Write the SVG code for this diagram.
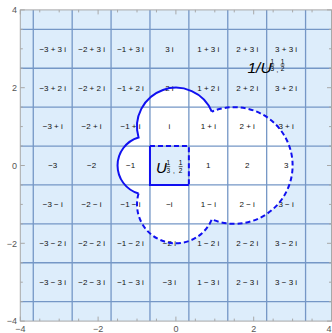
<svg xmlns="http://www.w3.org/2000/svg" width="332" height="333" viewBox="0 0 332 333">
<style>
.cell{font-family:"Liberation Sans",Arial,sans-serif;font-size:8px;fill:#111;text-anchor:middle}
.tick{font-family:"Liberation Sans",Arial,sans-serif;font-size:9px;fill:#555}
.big{font-family:"Liberation Sans",Arial,sans-serif;font-style:italic;fill:#000}
.frac{font-family:"Liberation Sans",Arial,sans-serif;font-size:6.5px;fill:#000;text-anchor:middle}
.grid{stroke:#7597c6;stroke-width:1.3;fill:none}
.bd{stroke:#1010f0;stroke-width:2;fill:none}
.dash{stroke-dasharray:5,3}
</style>
<g id="plot-bg">
<rect x="20.3" y="9.9" width="311.2" height="311.2" fill="#ddedfb"/>
<path id="blob" d="M211.81,111.64 A38.9,38.9 0 0 0 138.56,137.49 A29.175,29.175 0 0 0 138.56,193.51 A38.9,38.9 0 0 0 211.81,219.36 A58.35,58.35 0 1 0 211.81,111.64 Z" fill="#fff"/>
<rect id="square" x="149.97" y="146.05" width="38.9" height="38.9" fill="#ddedfb"/>
</g>
<g id="grid" class="grid">
<path d="M33.27,9.9V321.1M72.17,9.9V321.1M111.07,9.9V321.1M149.97,9.9V321.1M188.87,9.9V321.1M227.77,9.9V321.1M266.67,9.9V321.1M305.57,9.9V321.1"/>
<path d="M20.3,29.35H331.5M20.3,68.25H331.5M20.3,107.15H331.5M20.3,146.05H331.5M20.3,184.95H331.5M20.3,223.85H331.5M20.3,262.75H331.5M20.3,301.65H331.5"/>
</g>
<g id="frame" stroke="#a8a8a8" stroke-width="1" fill="none">
<rect x="20.3" y="9.9" width="311.2" height="311.2"/>
<path d="M20.3,321.1v-4.5M98.1,321.1v-4.5M175.9,321.1v-4.5M253.7,321.1v-4.5M331.5,321.1v-4.5M20.3,9.9v4.5M98.1,9.9v4.5M175.9,9.9v4.5M253.7,9.9v4.5M331.5,9.9v4.5M20.3,9.9h4.5M20.3,87.7h4.5M20.3,165.5h4.5M20.3,243.3h4.5M20.3,321.1h4.5M331.5,9.9h-4.5M331.5,87.7h-4.5M331.5,165.5h-4.5M331.5,243.3h-4.5M331.5,321.1h-4.5"/>
<path d="M39.75,321.1v-2.5M59.2,321.1v-2.5M78.65,321.1v-2.5M117.55,321.1v-2.5M137,321.1v-2.5M156.45,321.1v-2.5M195.35,321.1v-2.5M214.8,321.1v-2.5M234.25,321.1v-2.5M273.15,321.1v-2.5M292.6,321.1v-2.5M312.05,321.1v-2.5M39.75,9.9v2.5M59.2,9.9v2.5M78.65,9.9v2.5M117.55,9.9v2.5M137,9.9v2.5M156.45,9.9v2.5M195.35,9.9v2.5M214.8,9.9v2.5M234.25,9.9v2.5M273.15,9.9v2.5M292.6,9.9v2.5M312.05,9.9v2.5M20.3,29.35h2.5M20.3,48.8h2.5M20.3,68.25h2.5M20.3,107.15h2.5M20.3,126.6h2.5M20.3,146.05h2.5M20.3,184.95h2.5M20.3,204.4h2.5M20.3,223.85h2.5M20.3,262.75h2.5M20.3,282.2h2.5M20.3,301.65h2.5M331.5,29.35h-2.5M331.5,48.8h-2.5M331.5,68.25h-2.5M331.5,107.15h-2.5M331.5,126.6h-2.5M331.5,146.05h-2.5M331.5,184.95h-2.5M331.5,204.4h-2.5M331.5,223.85h-2.5M331.5,262.75h-2.5M331.5,282.2h-2.5M331.5,301.65h-2.5"/>
</g>
<g id="tick-labels" class="tick">
<text x="20.3" y="331.5" text-anchor="middle">−4</text>
<text x="98.1" y="331.5" text-anchor="middle">−2</text>
<text x="175.9" y="331.5" text-anchor="middle">0</text>
<text x="253.7" y="331.5" text-anchor="middle">2</text>
<text x="331.5" y="331.5" text-anchor="end">4</text>
<text x="17" y="13" text-anchor="end">4</text>
<text x="17" y="90.9" text-anchor="end">2</text>
<text x="17" y="168.7" text-anchor="end">0</text>
<text x="17" y="246.5" text-anchor="end">−2</text>
<text x="17" y="324.3" text-anchor="end">−4</text>
</g>
<g id="cell-labels" class="cell">
<text x="52.72" y="51.6">−3 + 3 i</text><text x="91.62" y="51.6">−2 + 3 i</text><text x="130.52" y="51.6">−1 + 3 i</text><text x="169.42" y="51.6">3 i</text><text x="208.32" y="51.6">1 + 3 i</text><text x="247.22" y="51.6">2 + 3 i</text><text x="286.12" y="51.6">3 + 3 i</text>
<text x="52.72" y="90.5">−3 + 2 i</text><text x="91.62" y="90.5">−2 + 2 i</text><text x="130.52" y="90.5">−1 + 2 i</text><text x="169.42" y="90.5">2 i</text><text x="208.32" y="90.5">1 + 2 i</text><text x="247.22" y="90.5">2 + 2 i</text><text x="286.12" y="90.5">3 + 2 i</text>
<text x="52.72" y="129.4">−3 + i</text><text x="91.62" y="129.4">−2 + i</text><text x="130.52" y="129.4">−1 + i</text><text x="169.42" y="129.4">i</text><text x="208.32" y="129.4">1 + i</text><text x="247.22" y="129.4">2 + i</text><text x="286.12" y="129.4">3 + i</text>
<text x="52.72" y="168.3">−3</text><text x="91.62" y="168.3">−2</text><text x="130.52" y="168.3">−1</text><text x="208.32" y="168.3">1</text><text x="247.22" y="168.3">2</text><text x="286.12" y="168.3">3</text>
<text x="52.72" y="207.2">−3 − i</text><text x="91.62" y="207.2">−2 − i</text><text x="130.52" y="207.2">−1 − i</text><text x="169.42" y="207.2">−i</text><text x="208.32" y="207.2">1 − i</text><text x="247.22" y="207.2">2 − i</text><text x="286.12" y="207.2">3 − i</text>
<text x="52.72" y="246.1">−3 − 2 i</text><text x="91.62" y="246.1">−2 − 2 i</text><text x="130.52" y="246.1">−1 − 2 i</text><text x="169.42" y="246.1">−2 i</text><text x="208.32" y="246.1">1 − 2 i</text><text x="247.22" y="246.1">2 − 2 i</text><text x="286.12" y="246.1">3 − 2 i</text>
<text x="52.72" y="285">−3 − 3 i</text><text x="91.62" y="285">−2 − 3 i</text><text x="130.52" y="285">−1 − 3 i</text><text x="169.42" y="285">−3 i</text><text x="208.32" y="285">1 − 3 i</text><text x="247.22" y="285">2 − 3 i</text><text x="286.12" y="285">3 − 3 i</text>
</g>
<g id="boundary">
<path class="bd" d="M211.81,111.64 A38.9,38.9 0 0 0 138.56,137.49 A29.175,29.175 0 0 0 138.56,193.51"/>
<path class="bd dash" d="M138.56,193.51 A38.9,38.9 0 0 0 211.81,219.36 A58.35,58.35 0 1 0 211.81,111.64"/>
<path class="bd" d="M149.97,146.05 V184.95 H188.87"/>
<path class="bd dash" d="M149.97,146.05 H188.87 V184.95"/>
</g>
<g id="label-U">
<text class="big" x="156" y="173.3" font-size="15">U</text>
<text class="frac" x="168.2" y="165.2">1</text>
<path d="M166.2,166.6h4" stroke="#000" stroke-width="0.6"/>
<text class="frac" x="168.2" y="172.8">3</text>
<text class="frac" x="174" y="173">,</text>
<text class="frac" x="180.6" y="165.2">1</text>
<path d="M178.6,166.6h4" stroke="#000" stroke-width="0.6"/>
<text class="frac" x="180.6" y="172.8">2</text>
</g>
<g id="label-inv-U">
<text class="big" x="247.5" y="72.7" font-size="15.5">1/U</text>
<text class="frac" x="272.3" y="63.6">1</text>
<path d="M270.3,65h4" stroke="#000" stroke-width="0.6"/>
<text class="frac" x="272.3" y="71.3">3</text>
<text class="frac" x="277.5" y="71.5">,</text>
<text class="frac" x="282.5" y="63.6">1</text>
<path d="M280.5,65h4" stroke="#000" stroke-width="0.6"/>
<text class="frac" x="282.5" y="71.3">2</text>
</g>
</svg>
